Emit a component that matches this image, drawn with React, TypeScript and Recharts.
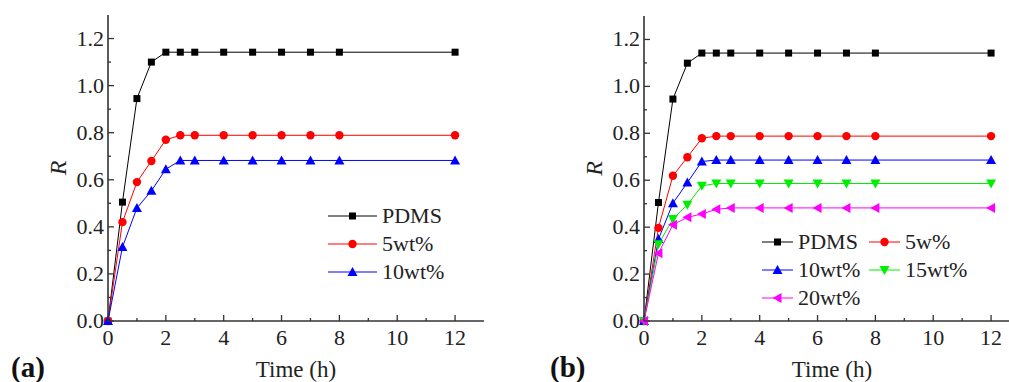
import React from 'react';
import { LineChart, Line, XAxis, YAxis, Legend, Label } from 'recharts';

// time axis, shared by both panels (h)
const times = [0, 0.5, 1, 1.5, 2, 2.5, 3, 4, 5, 6, 7, 8, 12];

// panel (a)
const aPdms = [0, 0.505, 0.945, 1.1, 1.142, 1.142, 1.142, 1.142, 1.142, 1.142, 1.142, 1.142, 1.142];
const a5wt = [0, 0.42, 0.59, 0.68, 0.77, 0.789, 0.789, 0.789, 0.789, 0.789, 0.789, 0.789, 0.789];
const a10wt = [0, 0.314, 0.48, 0.553, 0.645, 0.682, 0.682, 0.682, 0.682, 0.682, 0.682, 0.682, 0.682];

// panel (b)
const bPdms = [0, 0.505, 0.946, 1.099, 1.142, 1.142, 1.142, 1.142, 1.142, 1.142, 1.142, 1.142, 1.142];
const b5w = [0, 0.397, 0.619, 0.698, 0.779, 0.788, 0.788, 0.788, 0.788, 0.788, 0.788, 0.788, 0.788];
const b10wt = [0, 0.349, 0.502, 0.59, 0.68, 0.686, 0.686, 0.686, 0.686, 0.686, 0.686, 0.686, 0.686];
const b15wt = [0, 0.327, 0.435, 0.495, 0.576, 0.586, 0.586, 0.586, 0.586, 0.586, 0.586, 0.586, 0.586];
const b20wt = [0, 0.289, 0.41, 0.442, 0.456, 0.476, 0.482, 0.482, 0.482, 0.482, 0.482, 0.482, 0.482];

const xTicks = [0, 1, 2, 3, 4, 5, 6, 7, 8, 9, 10, 11, 12];
const yTicks = [0, 0.1, 0.2, 0.3, 0.4, 0.5, 0.6, 0.7, 0.8, 0.9, 1.0, 1.1, 1.2];

const dataA = times.map((t, i) => ({ t, pdms: aPdms[i], w5: a5wt[i], w10: a10wt[i] }));
const dataB = times.map((t, i) => ({
  t,
  pdms: bPdms[i],
  w5: b5w[i],
  w10: b10wt[i],
  w15: b15wt[i],
  w20: b20wt[i],
}));

const FONT = '"Liberation Serif", "Times New Roman", serif';
const AXIS = '#333';

type Shape = 'square' | 'circle' | 'up' | 'down' | 'left';

const shapes: Record<string, Shape> = {
  pdms: 'square',
  w5: 'circle',
  w10: 'up',
  w15: 'down',
  w20: 'left',
};
const seriesOrder = ['pdms', 'w5', 'w10', 'w15', 'w20'];

function Marker({ shape, cx, cy, color }: { shape: Shape; cx: number; cy: number; color: string }) {
  if (cx == null || cy == null) return null;
  switch (shape) {
    case 'square':
      return <rect x={cx - 3.5} y={cy - 3.5} width={7} height={7} fill={color} />;
    case 'circle':
      return <circle cx={cx} cy={cy} r={4.2} fill={color} />;
    case 'up':
      return <polygon points={`${cx},${cy - 5} ${cx - 5},${cy + 4} ${cx + 5},${cy + 4}`} fill={color} />;
    case 'down':
      return <polygon points={`${cx},${cy + 5} ${cx - 5},${cy - 4} ${cx + 5},${cy - 4}`} fill={color} />;
    case 'left':
      return <polygon points={`${cx - 5},${cy} ${cx + 4},${cy - 5} ${cx + 4},${cy + 5}`} fill={color} />;
  }
  return null;
}

const dotFor = (shape: Shape, color: string) => (p: any) =>
  <Marker key={`${shape}-${p.index}`} shape={shape} cx={p.cx} cy={p.cy} color={color} />;

const XTick = (props: any) => {
  const { x, y, payload } = props;
  const v = payload.value;
  const major = v % 2 === 0;
  return (
    <g>
      <line x1={x} y1={y} x2={x} y2={y - (major ? 6 : 3)} stroke={AXIS} strokeWidth={1.3} />
      {major && (
        <text x={x} y={y + 24} textAnchor="middle" fontFamily={FONT} fontSize={22} fill="#222">
          {v}
        </text>
      )}
    </g>
  );
};

const YTick = (props: any) => {
  const { x, y, payload } = props;
  const v = payload.value;
  const major = Math.round(v * 10) % 2 === 0;
  return (
    <g>
      <line x1={x} y1={y} x2={x + (major ? 6 : 3)} y2={y} stroke={AXIS} strokeWidth={1.3} />
      {major && (
        <text x={x - 4} y={y + 7} textAnchor="end" fontFamily={FONT} fontSize={22} fill="#222">
          {v.toFixed(1)}
        </text>
      )}
    </g>
  );
};

const TimeTitle = (p: any) => {
  const vb = p.viewBox;
  return (
    <text x={vb.x + vb.width / 2} y={vb.y + 56} textAnchor="middle" fontFamily={FONT} fontSize={23} fill="#222">
      Time (h)
    </text>
  );
};

const RTitle = (p: any) => {
  const vb = p.viewBox;
  const cx = vb.x + vb.width - 50;
  const cy = vb.y + vb.height / 2;
  return (
    <text
      x={cx}
      y={cy}
      transform={`rotate(-90 ${cx} ${cy})`}
      textAnchor="middle"
      dy="0.35em"
      fontFamily={FONT}
      fontStyle="italic"
      fontSize={24}
      fill="#222"
    >
      R
    </text>
  );
};

const LegendBox = ({ payload, itemWidth, lineLen }: any) => {
  const items = [...(payload || [])].sort(
    (a: any, b: any) => seriesOrder.indexOf(a.dataKey) - seriesOrder.indexOf(b.dataKey)
  );
  return (
    <div style={{ display: 'flex', flexWrap: 'wrap', fontFamily: FONT, fontSize: 22, color: '#222' }}>
      {items.map((e: any) => (
        <div key={e.dataKey} style={{ display: 'flex', alignItems: 'center', width: itemWidth, height: 28 }}>
          <svg width={lineLen} height={14} style={{ flex: 'none' }}>
            <line x1={0} y1={7} x2={lineLen} y2={7} stroke={e.color} strokeWidth={1} />
            <Marker shape={shapes[e.dataKey]} cx={lineLen / 2} cy={7} color={e.color} />
          </svg>
          <span style={{ marginLeft: 5, whiteSpace: 'nowrap', lineHeight: '28px' }}>{e.value}</span>
        </div>
      ))}
    </div>
  );
};

const axesFor = (yWidth: number) => [
  <XAxis
    key="xb"
    dataKey="t"
    type="number"
    domain={[0, 13]}
    ticks={xTicks}
    interval={0}
    height={61}
    tickSize={0}
    tickMargin={0}
    tickLine={false}
    tick={<XTick />}
    axisLine={{ stroke: AXIS, strokeWidth: 1.6 }}
  >
    <Label content={<TimeTitle />} />
  </XAxis>,
  <XAxis key="xt" xAxisId="top" orientation="top" type="number" domain={[0, 13]} height={0} tick={false} tickLine={false} axisLine={{ stroke: AXIS, strokeWidth: 1.6 }} />,
  <YAxis
    key="yl"
    type="number"
    domain={[0, 1.3]}
    ticks={yTicks}
    interval={0}
    width={yWidth}
    tickSize={0}
    tickMargin={0}
    tickLine={false}
    tick={<YTick />}
    axisLine={{ stroke: AXIS, strokeWidth: 1.6 }}
  >
    <Label content={<RTitle />} />
  </YAxis>,
  <YAxis key="yr" yAxisId="right" orientation="right" type="number" domain={[0, 1.3]} width={0} tick={false} tickLine={false} axisLine={{ stroke: AXIS, strokeWidth: 1.6 }} />,
];

const panelLabel = (left: number): React.CSSProperties => ({
  position: 'absolute',
  left,
  top: 350,
  fontFamily: FONT,
  fontWeight: 'bold',
  fontSize: 29,
  lineHeight: '34px',
  color: '#111',
});

export default function App() {
  return (
    <div style={{ position: 'absolute', left: 0, top: 0, width: 1009, height: 382, overflow: 'hidden', background: '#fff' }}>
      <div style={{ position: 'absolute', left: 0, top: 0 }}>
        <LineChart width={500} height={382} data={dataA} margin={{ top: 15, right: 16, bottom: 0, left: 0 }}>
          {axesFor(108)}
          <Line dataKey="pdms" name="PDMS" stroke="#000" strokeWidth={1} dot={dotFor('square', '#000')} isAnimationActive={false} />
          <Line dataKey="w5" name="5wt%" stroke="#ff0000" strokeWidth={1} dot={dotFor('circle', '#ff0000')} isAnimationActive={false} />
          <Line dataKey="w10" name="10wt%" stroke="#0000ff" strokeWidth={1} dot={dotFor('up', '#0000ff')} isAnimationActive={false} />
          <Legend
            layout="vertical"
            align="center"
            verticalAlign="middle"
            wrapperStyle={{ left: 328, top: 202, width: 160 }}
            content={(p: any) => <LegendBox payload={p.payload} itemWidth={160} lineLen={49} />}
          />
        </LineChart>
      </div>
      <div style={{ position: 'absolute', left: 505, top: 0 }}>
        <LineChart width={520} height={382} data={dataB} margin={{ top: 16, right: 5, bottom: 0, left: 0 }}>
          {axesFor(139)}
          <Line dataKey="pdms" name="PDMS" stroke="#000" strokeWidth={1} dot={dotFor('square', '#000')} isAnimationActive={false} />
          <Line dataKey="w5" name="5w%" stroke="#ff0000" strokeWidth={1} dot={dotFor('circle', '#ff0000')} isAnimationActive={false} />
          <Line dataKey="w10" name="10wt%" stroke="#0000ff" strokeWidth={1} dot={dotFor('up', '#0000ff')} isAnimationActive={false} />
          <Line dataKey="w15" name="15wt%" stroke="#00ee00" strokeWidth={1} dot={dotFor('down', '#00ee00')} isAnimationActive={false} />
          <Line dataKey="w20" name="20wt%" stroke="#ff00ff" strokeWidth={1} dot={dotFor('left', '#ff00ff')} isAnimationActive={false} />
          <Legend
            layout="vertical"
            align="center"
            verticalAlign="middle"
            wrapperStyle={{ left: 257, top: 228, width: 230 }}
            content={(p: any) => <LegendBox payload={p.payload} itemWidth={107} lineLen={31} />}
          />
        </LineChart>
      </div>
      <div style={panelLabel(11)}>(a)</div>
      <div style={panelLabel(550)}>(b)</div>
    </div>
  );
}
